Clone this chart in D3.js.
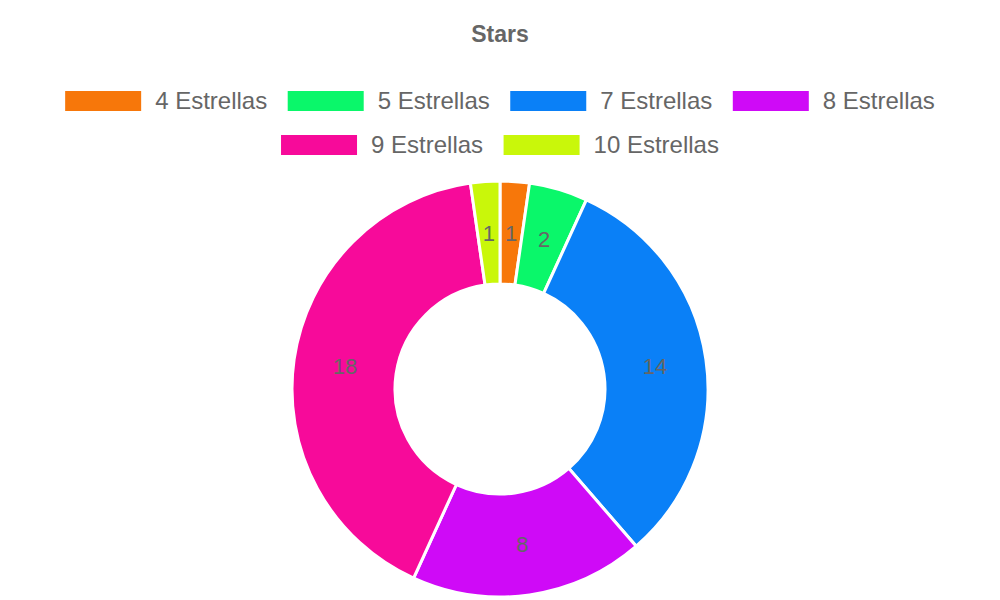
<!DOCTYPE html>
<html>
<head>
<meta charset="utf-8">
<script src="https://cdn.jsdelivr.net/npm/d3@7"></script>
<style>
  body { margin: 0; background: #fff; }
  text { font-family: "Liberation Sans", Arial, sans-serif; }
</style>
</head>
<body>
<div id="chart"></div>
<script>
const labels = ["4 Estrellas", "5 Estrellas", "7 Estrellas", "8 Estrellas", "9 Estrellas", "10 Estrellas"];
const counts = [1, 2, 14, 8, 18, 1];
const colors = ["#f7770a", "#0af76a", "#0a80f7", "#cf0af7", "#f70a9a", "#c9f70a"];

const width = 1000,
      height = 600,
      cx = 500,
      cy = 389,
      outer = 208,
      inner = 105;

let svg = d3.select("#chart")
    .append("svg")
    .attr("width", width)
    .attr("height", height);

svg.append("text")
    .attr("x", 500)
    .attr("y", 34)
    .attr("dy", "0.35em")
    .attr("text-anchor", "middle")
    .style("font-size", "23px")
    .style("font-weight", "bold")
    .style("fill", "#666")
    .text("Stars");

// legend, two centered rows like chart.js
const boxW = 76, boxH = 20, textGap = 14, itemGap = 20.5, fs = 24;
let rows = [[0, 1, 2, 3], [4, 5]];
let measure = svg.append("text").style("font-size", fs + "px");
function textW(s) { measure.text(s); return measure.node().getComputedTextLength(); }
let rowY = [101, 145];
rows.forEach(function(r, ri) {
  let widths = r.map(i => boxW + textGap + textW(labels[i]));
  let total = d3.sum(widths) + itemGap * (r.length - 1);
  let x = (width - total) / 2;
  r.forEach(function(i, k) {
    let g = svg.append("g").attr("transform", "translate(" + x + "," + rowY[ri] + ")");
    g.append("rect")
      .attr("x", 0).attr("y", -boxH / 2)
      .attr("width", boxW).attr("height", boxH)
      .style("fill", colors[i]);
    g.append("text")
      .attr("x", boxW + textGap)
      .attr("dy", "0.35em")
      .style("font-size", fs + "px")
      .style("fill", "#666")
      .text(labels[i]);
    x += widths[k] + itemGap;
  });
});
measure.remove();

let pie = d3.pie().sort(null).value(d => d);
let arcs = pie(counts);
let arc = d3.arc().innerRadius(inner).outerRadius(outer);

let g = svg.append("g").attr("transform", "translate(" + cx + "," + cy + ")");

g.selectAll("path")
    .data(arcs)
    .enter().append("path")
    .attr("d", arc)
    .style("fill", (d, i) => colors[i])
    .style("stroke", "#fff")
    .style("stroke-width", "3px");

let mid = d3.arc().innerRadius((inner + outer) / 2).outerRadius((inner + outer) / 2);
g.selectAll("text.val")
    .data(arcs)
    .enter().append("text")
    .attr("class", "val")
    .attr("transform", d => "translate(" + mid.centroid(d) + ")")
    .attr("text-anchor", "middle")
    .attr("dy", "0.35em")
    .style("font-size", "22px")
    .style("fill", "#666")
    .text(d => d.data);
</script>
</body>
</html>
